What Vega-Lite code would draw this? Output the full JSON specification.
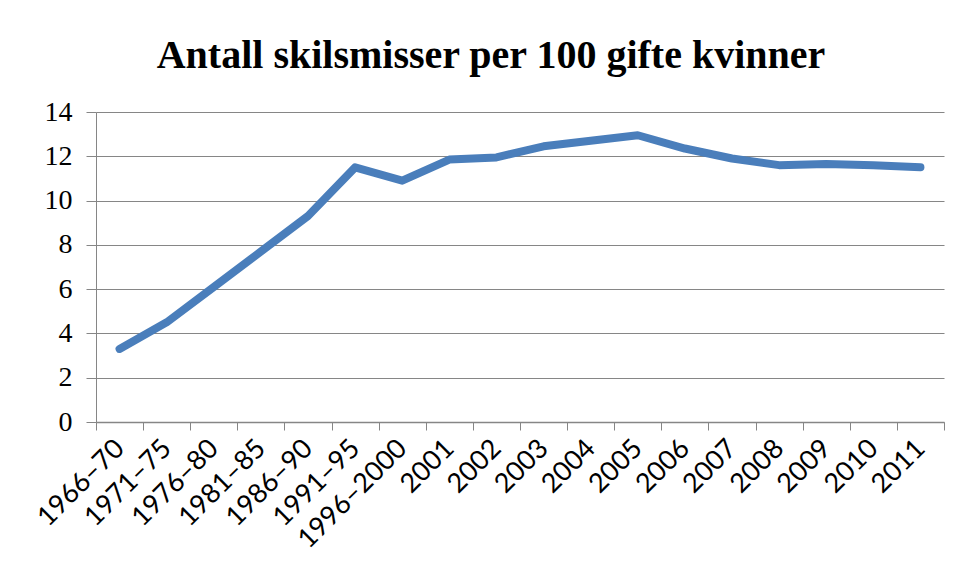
{
  "$schema": "https://vega.github.io/schema/vega-lite/v6.json",
  "width": 848,
  "height": 310,
  "autosize": {"type": "none"},
  "padding": {"left": 96, "top": 112, "right": 14, "bottom": 161},
  "background": "white",
  "title": {
    "text": "Antall skilsmisser per 100 gifte kvinner",
    "font": "Liberation Serif",
    "fontSize": 40,
    "fontWeight": "bold",
    "color": "black",
    "anchor": "middle",
    "frame": "group",
    "dx": -29,
    "baseline": "alphabetic",
    "offset": -10
  },
  "data": {
    "values": [
      {"periode": "1966–70", "verdi": 3.3},
      {"periode": "1971–75", "verdi": 4.5},
      {"periode": "1976–80", "verdi": 6.1},
      {"periode": "1981–85", "verdi": 7.7},
      {"periode": "1986–90", "verdi": 9.3},
      {"periode": "1991–95", "verdi": 11.5},
      {"periode": "1996–2000", "verdi": 10.9},
      {"periode": "2001", "verdi": 11.85},
      {"periode": "2002", "verdi": 11.95},
      {"periode": "2003", "verdi": 12.45},
      {"periode": "2004", "verdi": 12.7},
      {"periode": "2005", "verdi": 12.95},
      {"periode": "2006", "verdi": 12.35},
      {"periode": "2007", "verdi": 11.9},
      {"periode": "2008", "verdi": 11.6},
      {"periode": "2009", "verdi": 11.65},
      {"periode": "2010", "verdi": 11.6},
      {"periode": "2011", "verdi": 11.5}
    ]
  },
  "mark": {"type": "line", "color": "#4a7ebb", "strokeWidth": 8, "strokeCap": "round", "strokeJoin": "round"},
  "encoding": {
    "x": {
      "field": "periode",
      "type": "ordinal",
      "sort": null,
      "scale": {"paddingInner": 0, "paddingOuter": 0},
      "axis": {
        "title": null,
        "tickBand": "extent",
        "labelAngle": -45,
        "labelAlign": "right",
        "labelBaseline": "middle",
        "labelFont": "Lato",
        "labelFontSize": 27,
        "labelColor": "black",
        "labelPadding": 14,
        "tickSize": 8,
        "tickColor": "#868686",
        "domainColor": "#868686",
        "domainWidth": 1.5,
        "grid": false
      }
    },
    "y": {
      "field": "verdi",
      "type": "quantitative",
      "scale": {"domain": [0, 14], "nice": false},
      "axis": {
        "title": null,
        "values": [0, 2, 4, 6, 8, 10, 12, 14],
        "labelFont": "Liberation Serif",
        "labelFontSize": 28,
        "labelColor": "black",
        "labelPadding": 14,
        "tickSize": 10,
        "tickColor": "#868686",
        "domainColor": "#868686",
        "gridColor": "#868686",
        "gridWidth": 1.2,
        "grid": true
      }
    }
  },
  "config": {"view": {"stroke": null}}
}
